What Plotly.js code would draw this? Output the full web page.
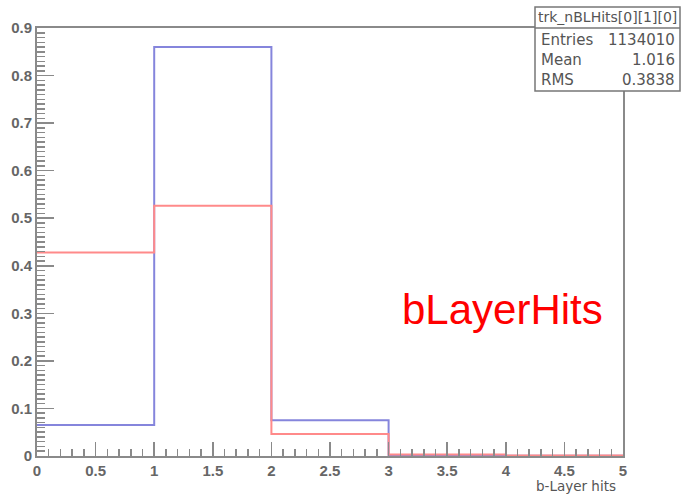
<!DOCTYPE html>
<html>
<head>
<meta charset="utf-8">
<script src="https://cdn.plot.ly/plotly-3.0.1.min.js"></script>
<style>html,body{margin:0;padding:0;background:#fff;}#plot{width:682px;height:495px;}</style>
</head>
<body>
<div id="plot"></div>
<script>
// ---- data ----
const binEdges = [0, 1, 2, 3, 4, 5];
const blueValues = [0.065, 0.860, 0.075, 0.002, 0.0005];
const redValues = [0.428, 0.526, 0.046, 0.003, 0.001];
const statsTitle = "trk_nBLHits[0][1][0]";
const statsLabels = ["Entries", "Mean", "RMS"];
const statsValues = ["1134010", "1.016", "0.3838"];
const xTitle = "b-Layer hits";
const bigLabel = "bLayerHits";

// ---- layout geometry ----
const W = 682, H = 495;
const M = {l: 37, r: 59, t: 28, b: 39};
const pw = W - M.l - M.r, ph = H - M.t - M.b;
const px = x => (x - M.l) / pw;
const py = y => (H - M.b - y) / ph;

function stepTrace(values, color) {
  return {
    type: 'scatter', mode: 'lines',
    x: binEdges,
    y: values.concat([values[values.length - 1]]),
    line: {shape: 'hv', color: color, width: 2},
    hoverinfo: 'skip', showlegend: false
  };
}

const traces = [
  stepTrace(blueValues, '#8585dc'),
  stepTrace(redValues, '#ff8a8a')
];

const axisCol = '#8a8a8a';
const tickFont = {family: 'Liberation Sans, Arial, sans-serif', size: 15, color: '#666', weight: 'bold'};

const boxX0 = px(535), boxX1 = px(680), boxY0 = py(91), boxY1 = py(7), sepY = py(28);
const rowY = [40, 60, 80];
const txtFont = {family: 'DejaVu Sans, sans-serif', size: 15, color: '#555', weight: 'normal'};

const annotations = [
  {xref: 'paper', yref: 'paper', x: (boxX0 + boxX1) / 2, y: py(17.5), text: statsTitle,
   showarrow: false, xanchor: 'center', yanchor: 'middle', font: {family: 'DejaVu Sans, sans-serif', size: 14, color: '#555', weight: 'normal'}},
  {xref: 'paper', yref: 'paper', x: px(618), y: py(486), text: xTitle,
   showarrow: false, xanchor: 'right', yanchor: 'middle', font: {family: 'DejaVu Sans, sans-serif', size: 13.5, color: '#555', weight: 'normal'}},
  {xref: 'paper', yref: 'paper', x: px(502), y: py(309), text: bigLabel,
   showarrow: false, xanchor: 'center', yanchor: 'middle', font: {family: 'Liberation Sans, Arial, sans-serif', size: 42, color: '#ff0000', weight: 'normal'}}
];
statsLabels.forEach((lab, i) => {
  annotations.push({xref: 'paper', yref: 'paper', x: px(539), y: py(rowY[i]), text: lab,
    showarrow: false, xanchor: 'left', yanchor: 'middle', font: txtFont});
  annotations.push({xref: 'paper', yref: 'paper', x: px(677), y: py(rowY[i]), text: statsValues[i],
    showarrow: false, xanchor: 'right', yanchor: 'middle', font: txtFont});
});

const layout = {
  width: W, height: H,
  margin: M,
  paper_bgcolor: '#fff', plot_bgcolor: '#fff',
  font: {family: 'Liberation Sans, Arial, sans-serif', size: 14, color: '#555'},
  xaxis: {
    range: [0, 5], dtick: 0.5, tick0: 0,
    showgrid: false, zeroline: false,
    showline: true, linecolor: axisCol, linewidth: 2, mirror: true,
    ticks: 'inside', ticklen: 14, tickwidth: 1.5, tickcolor: axisCol,
    minor: {dtick: 0.1, ticks: 'inside', ticklen: 7, tickwidth: 1.5, tickcolor: axisCol, showgrid: false},
    tickfont: tickFont, fixedrange: true
  },
  yaxis: {
    range: [0, 0.9], dtick: 0.1, tick0: 0,
    showgrid: false, zeroline: false,
    showline: true, linecolor: axisCol, linewidth: 2, mirror: true,
    ticks: 'inside', ticklen: 17, tickwidth: 1.5, tickcolor: axisCol,
    minor: {dtick: 0.01, ticks: 'inside', ticklen: 8, tickwidth: 1.5, tickcolor: axisCol, showgrid: false},
    tickfont: tickFont, fixedrange: true
  },
  shapes: [
    {type: 'rect', xref: 'paper', yref: 'paper', x0: boxX0, x1: boxX1, y0: boxY0, y1: boxY1,
     fillcolor: '#fff', line: {color: '#777', width: 1.5}, layer: 'above'},
    {type: 'line', xref: 'paper', yref: 'paper', x0: boxX0, x1: boxX1, y0: sepY, y1: sepY,
     line: {color: '#777', width: 1.5}, layer: 'above'}
  ],
  annotations: annotations
};

Plotly.newPlot('plot', traces, layout, {displayModeBar: false, staticPlot: true});
</script>
</body>
</html>
